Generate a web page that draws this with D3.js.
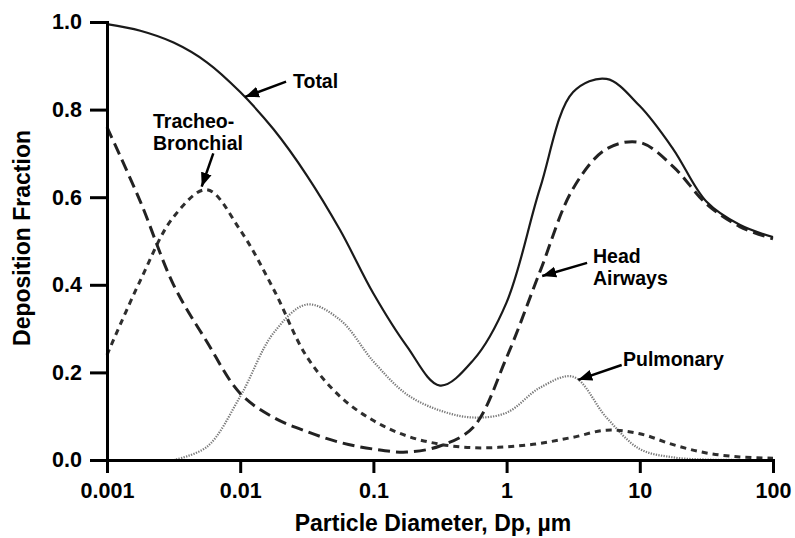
<!DOCTYPE html>
<html>
<head>
<meta charset="utf-8">
<script src="https://cdn.jsdelivr.net/npm/d3@7"></script>
<style>
  body { margin: 0; background: #fff; }
  text { font-family: "Liberation Sans", Arial, sans-serif; font-weight: bold; fill: #000; }
</style>
</head>
<body>
<svg id="chart" width="795" height="538"></svg>
<script>
// particle diameter (um), quarter-decade steps
const diameters = [0.001, 0.00178, 0.00316, 0.00562, 0.01, 0.0178, 0.0316, 0.0562, 0.1, 0.178, 0.316,
  0.562, 1, 1.78, 3.16, 5.62, 10, 17.8, 31.6, 56.2, 100];

const total = [0.995, 0.98, 0.953, 0.908, 0.84, 0.755, 0.65, 0.525, 0.38, 0.26, 0.17,
  0.228, 0.36, 0.62, 0.84, 0.87, 0.808, 0.71, 0.59, 0.537, 0.509];
const headAirways = [0.76, 0.59, 0.40, 0.27, 0.152, 0.097, 0.065, 0.04, 0.025, 0.018, 0.032,
  0.075, 0.234, 0.43, 0.62, 0.71, 0.725, 0.67, 0.585, 0.533, 0.505];
const trachBronchial = [0.24, 0.41, 0.555, 0.617, 0.525, 0.39, 0.236, 0.145, 0.09, 0.055, 0.036,
  0.028, 0.03, 0.038, 0.052, 0.068, 0.06, 0.035, 0.016, 0.007, 0.004];
const pulmonary = [null, null, 0, 0.03, 0.145, 0.29, 0.355, 0.32, 0.225, 0.15, 0.113,
  0.097, 0.108, 0.165, 0.19, 0.097, 0.025, 0.006, 0.001, 0, 0];

const xTicks = [0.001, 0.01, 0.1, 1, 10, 100];
const xTickLabels = ["0.001", "0.01", "0.1", "1", "10", "100"];
const yTicks = [0, 0.2, 0.4, 0.6, 0.8, 1.0];

const svg = d3.select("#chart");

const x = d3.scaleLog().domain([0.001, 100]).range([107, 773]);
const y = d3.scaleLinear().domain([0, 1]).range([460, 22]);

const series = [
  { values: pulmonary, stroke: "#7a7a7a", width: 2.2, dash: "1.3,1.3" },
  { values: trachBronchial, stroke: "#2e2e2e", width: 3, dash: "6,5" },
  { values: headAirways, stroke: "#222", width: 3, dash: "12,6" },
  { values: total, stroke: "#1a1a1a", width: 2.2, dash: null }
];

const line = d3.line()
  .defined(d => d[1] != null)
  .x(d => x(d[0]))
  .y(d => Math.min(y(d[1]), 460))
  .curve(d3.curveCatmullRom.alpha(0.5));

svg.append("g")
  .selectAll("path")
  .data(series)
  .enter()
  .append("path")
  .attr("fill", "none")
  .attr("stroke", d => d.stroke)
  .attr("stroke-width", d => d.width)
  .attr("stroke-dasharray", d => d.dash)
  .attr("d", d => line(diameters.map((dp, i) => [dp, d.values[i]])));

// axes
const xAxis = svg.append("g")
  .attr("transform", "translate(0,460)")
  .call(d3.axisBottom(x)
    .tickValues(xTicks)
    .tickFormat((d, i) => xTickLabels[i])
    .tickSize(13)
    .tickSizeOuter(0)
    .tickPadding(10));

const yAxis = svg.append("g")
  .attr("transform", "translate(107,0)")
  .call(d3.axisLeft(y)
    .tickValues(yTicks)
    .tickFormat(d3.format(".1f"))
    .tickSize(17)
    .tickSizeOuter(0)
    .tickPadding(8));

[xAxis, yAxis].forEach(g => {
  g.attr("font-family", null).attr("font-size", null);
  g.select(".domain").attr("stroke", "#000").attr("stroke-width", 3).attr("stroke-linecap", "square");
  g.selectAll(".tick line").attr("stroke", "#000").attr("stroke-width", 3);
  g.selectAll(".tick text").attr("fill", "#000").style("font-size", "21.5px");
});

svg.append("text")
  .attr("x", 433)
  .attr("y", 531)
  .attr("text-anchor", "middle")
  .style("font-size", "23px")
  .text("Particle Diameter, Dp, µm");

svg.append("text")
  .attr("transform", "translate(30,238) rotate(-90)")
  .attr("text-anchor", "middle")
  .style("font-size", "23px")
  .text("Deposition Fraction");

// annotations: arrow tail/head in data units, labels beside the tail
svg.append("defs").append("marker")
  .attr("id", "arrowhead")
  .attr("viewBox", "-14 -6 14 12")
  .attr("refX", 0)
  .attr("refY", 0)
  .attr("markerWidth", 14)
  .attr("markerHeight", 12)
  .attr("markerUnits", "userSpaceOnUse")
  .attr("orient", "auto")
  .append("path")
  .attr("d", "M0,0L-14,-5.5L-14,5.5Z")
  .attr("fill", "#000");

const annotations = [
  { from: [0.0221, 0.864], to: [0.01087, 0.829], lines: ["Total"], at: [293, 88] },
  { from: [0.00628, 0.700], to: [0.00514, 0.624], lines: ["Tracheo-", "Bronchial"], at: [153, 128] },
  { from: [4.02, 0.45], to: [1.85, 0.42], lines: ["Head", "Airways"], at: [593, 263] },
  { from: [7.31, 0.217], to: [3.45, 0.183], lines: ["Pulmonary"], at: [623, 366] }
];

const ann = svg.append("g").selectAll("g").data(annotations).enter().append("g");

ann.append("line")
  .attr("x1", d => x(d.from[0]))
  .attr("y1", d => y(d.from[1]))
  .attr("x2", d => x(d.to[0]))
  .attr("y2", d => y(d.to[1]))
  .attr("stroke", "#000")
  .attr("stroke-width", 2.5)
  .attr("marker-end", "url(#arrowhead)");

ann.append("text")
  .attr("x", d => d.at[0])
  .attr("y", d => d.at[1])
  .style("font-size", "19.5px")
  .selectAll("tspan")
  .data(d => d.lines.map((t, i) => ({ t, i, x: d.at[0] })))
  .enter()
  .append("tspan")
  .attr("x", d => d.x)
  .attr("dy", d => (d.i === 0 ? 0 : 22))
  .text(d => d.t);
</script>
</body>
</html>
